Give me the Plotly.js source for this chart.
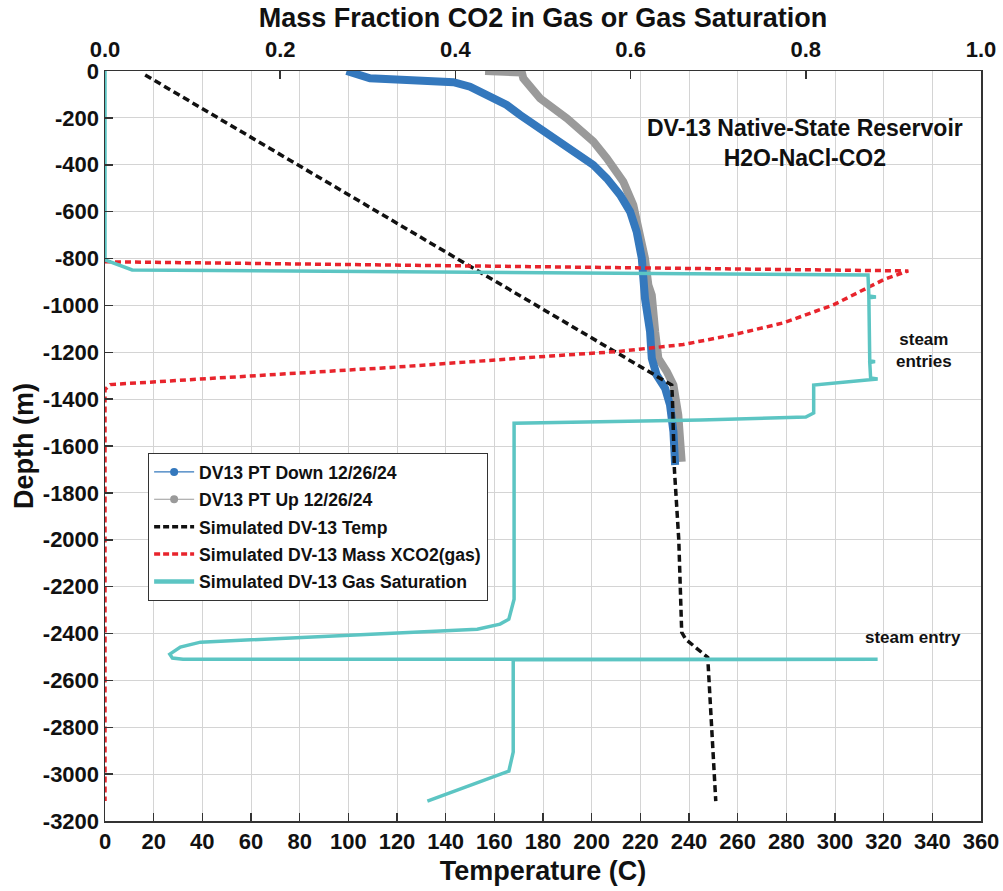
<!DOCTYPE html>
<html>
<head>
<meta charset="utf-8">
<script src="https://cdn.plot.ly/plotly-3.0.1.min.js"></script>
<style>html,body{margin:0;padding:0;background:#fff;}#chart{width:1003px;height:891px;}</style>
</head>
<body>
<div id="chart"></div>
<script>
// Measured PT logs (Temperature C vs depth m)
const downTemp  = [99.3, 106.9, 108.9, 124, 143.2, 150, 156.9, 165.1, 170.6, 178.8, 187, 195.2, 200.7, 206.2, 211.7, 215.8, 218.5, 220.6, 221.3, 221.9, 224, 224.7, 226.7, 230.2, 232.2, 233.6, 234.3];
const downDepth = [0, -24, -31, -38, -48, -67, -102, -145, -188, -245, -301, -358, -401, -458, -529, -600, -686, -799, -913, -970, -1112, -1226, -1297, -1354, -1425, -1539, -1681];
const upTemp    = [156.2, 171.3, 171.9, 178.8, 189.8, 200.7, 206.2, 213, 217.1, 219.9, 221.9, 223.3, 224.7, 226.1, 227.4, 230.9, 233.6, 235.6, 237];
const upDepth   = [0, -6, -31, -117, -202, -301, -372, -472, -572, -686, -799, -913, -956, -1112, -1226, -1283, -1340, -1468, -1667];

// Simulated temperature
const simTemp  = [16.5, 232.9, 233.2, 234, 235.8, 237, 238.7, 247.7, 251];
const simDepth = [-17, -1340, -1400, -1700, -2000, -2395, -2425, -2502, -3115];

// Simulated mass fraction CO2 in gas (top axis)
const xco2      = [0, 0.33, 0.68, 0.917, 0.889, 0.832, 0.775, 0.718, 0.66, 0.585, 0.509, 0.326, 0.097, 0.006, 0, 0];
const xco2Depth = [-814, -828, -842, -853, -890, -997, -1074, -1125, -1167, -1197, -1216, -1265, -1317, -1338, -1359, -3115];

// Simulated gas saturation (top axis)
const gasSat = [0, 0, 0.031, 0.871, 0.872, 0.880, 0.872, 0.873, 0.879, 0.873, 0.874, 0.882, 0.809, 0.809, 0.800, 0.68, 0.467, 0.467, 0.461, 0.451, 0.425, 0.352, 0.181, 0.109, 0.086, 0.074, 0.077, 0.089, 0.882, 0.466, 0.466, 0.461, 0.368];
const gasSatDepth = [0, -806, -849, -870, -960, -964, -968, -1236, -1240, -1244, -1310, -1314, -1340, -1459, -1476, -1489, -1503, -2254, -2339, -2360, -2382, -2395, -2424, -2437, -2458, -2488, -2505, -2510, -2510, -2512, -2906, -2987, -3115];

const tempTicks = [0,20,40,60,80,100,120,140,160,180,200,220,240,260,280,300,320,340,360];
const fracTicks = [0, 0.2, 0.4, 0.6, 0.8, 1.0];
const depthTicks = [0,-200,-400,-600,-800,-1000,-1200,-1400,-1600,-1800,-2000,-2200,-2400,-2600,-2800,-3000,-3200];

const names = ['DV13 PT Down 12/26/24','DV13 PT Up 12/26/24','Simulated DV-13 Temp','Simulated DV-13 Mass XCO2(gas)','Simulated DV-13 Gas Saturation'];
const colors = {down:'#3478bd', up:'#9a9a9a', temp:'#111111', xco2:'#e8242c', gas:'#5cc5c3'};

const FONT = 'Liberation Sans, Arial, Helvetica, sans-serif';

const traces = [
  {x: xco2, y: xco2Depth, xaxis:'x2', yaxis:'y', mode:'lines', line:{color:colors.xco2, width:3.5, dash:'6px,4px'}, showlegend:false, hoverinfo:'skip'},
  {x: gasSat, y: gasSatDepth, xaxis:'x2', yaxis:'y', mode:'lines', line:{color:colors.gas, width:3.5}, showlegend:false, hoverinfo:'skip'},
  {x: upTemp, y: upDepth, mode:'lines', line:{color:colors.up, width:8}, showlegend:false, hoverinfo:'skip'},
  {x: downTemp, y: downDepth, mode:'lines', line:{color:colors.down, width:8}, showlegend:false, hoverinfo:'skip'},
  {x: simTemp, y: simDepth, mode:'lines', line:{color:colors.temp, width:3.5, dash:'7px,4px'}, showlegend:false, hoverinfo:'skip'},
  // legend entries
  {x:[null], y:[null], name:names[0], legendgroup:'a', mode:'lines+markers', line:{color:colors.down, width:1.2}, marker:{color:colors.down, size:8}},
  {x:[null], y:[null], name:names[1], legendgroup:'b', mode:'lines+markers', line:{color:colors.up, width:1.2}, marker:{color:colors.up, size:8}},
  {x:[null], y:[null], name:names[2], legendgroup:'c', mode:'lines', line:{color:colors.temp, width:3.5, dash:'6px,3px'}},
  {x:[null], y:[null], name:names[3], legendgroup:'d', mode:'lines', line:{color:colors.xco2, width:3.5, dash:'6px,3px'}},
  {x:[null], y:[null], name:names[4], legendgroup:'e', mode:'lines', line:{color:colors.gas, width:4.5}}
];

const axisCommon = {
  showline:true, linecolor:'#333', linewidth:1.5,
  ticks:'inside', ticklen:8, tickwidth:1.5, tickcolor:'#333',
  tickfont:{family:FONT, size:22, color:'#111', weight:'bold'},
  zeroline:false, automargin:false, fixedrange:true
};

const layout = {
  width:1003, height:891,
  margin:{l:105, r:22, t:71, b:70},
  paper_bgcolor:'#fff', plot_bgcolor:'#fff',
  font:{family:FONT, color:'#111'},
  showlegend:true,
  xaxis: Object.assign({}, axisCommon, {
    range:[0,360], tickvals:tempTicks, ticktext:tempTicks.map(String),
    showgrid:true, gridcolor:'#d4d4d4', gridwidth:1,
    title:{text:'Temperature (C)', font:{family:FONT, size:27, color:'#111', weight:'bold'}, standoff:8}
  }),
  xaxis2: Object.assign({}, axisCommon, {
    range:[0,1], overlaying:'x', side:'top', anchor:'y',
    tickvals:fracTicks, ticktext:fracTicks.map(v=>v.toFixed(1)),
    showgrid:false, ticklabelstandoff:4,
    title:{text:'Mass Fraction CO2 in Gas or Gas Saturation', font:{family:FONT, size:27, color:'#111', weight:'bold'}, standoff:1}
  }),
  yaxis: Object.assign({}, axisCommon, {
    range:[-3200,0], tickvals:depthTicks, ticktext:depthTicks.map(String),
    mirror:true,
    showgrid:true, gridcolor:'#d4d4d4', gridwidth:1,
    title:{text:'Depth (m)', font:{family:FONT, size:27, color:'#111', weight:'bold'}, standoff:1}
  }),
  legend:{
    x:0.049, y:0.491, xanchor:'left', yanchor:'top',
    bgcolor:'#fff', bordercolor:'#333', borderwidth:1.2,
    font:{family:FONT, size:17.6, color:'#111', weight:'bold'},
    traceorder:'grouped', tracegroupgap:1.5, itemwidth:40
  },
  annotations:[
    {xref:'paper', yref:'paper', x:0.799, y:0.904, text:'DV-13 Native-State Reservoir<br>H2O-NaCl-CO2', showarrow:false, align:'center', xanchor:'center', yanchor:'middle', font:{family:FONT, size:23, color:'#111', weight:'bold'}},
    {xref:'paper', yref:'paper', x:0.935, y:0.627, text:'steam<br>entries', showarrow:false, align:'center', xanchor:'center', yanchor:'middle', font:{family:FONT, size:17, color:'#111', weight:'bold'}},
    {xref:'paper', yref:'paper', x:0.922, y:0.245, text:'steam entry', showarrow:false, align:'center', xanchor:'center', yanchor:'middle', font:{family:FONT, size:17, color:'#111', weight:'bold'}}
  ]
};

Plotly.newPlot('chart', traces, layout, {staticPlot:true, displayModeBar:false});
</script>
</body>
</html>
